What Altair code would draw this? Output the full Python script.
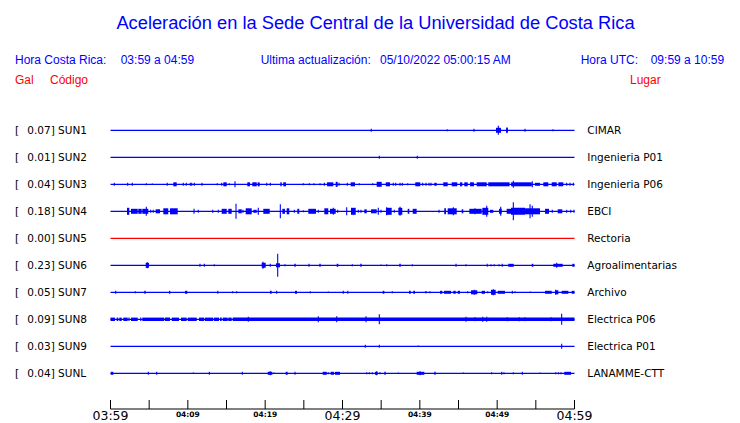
import altair as alt
import pandas as pd

# ---------------- data ----------------
TITLE = "Aceleración en la Sede Central de la Universidad de Costa Rica"
CR_LABEL, CR_RANGE = "Hora Costa Rica:", "03:59 a 04:59"
UPD_LABEL, UPD_VALUE = "Ultima actualización:", "05/10/2022 05:00:15 AM"
UTC_LABEL, UTC_RANGE = "Hora UTC:", "09:59 a 10:59"
HEAD_GAL, HEAD_CODE, HEAD_PLACE = "Gal", "Código", "Lugar"

CODES = ["SUN1", "SUN2", "SUN3", "SUN4", "SUN5", "SUN6", "SUN7", "SUN8", "SUN9", "SUNL"]
PEAKS = ["0.07", "0.01", "0.04", "0.18", "0.00", "0.23", "0.05", "0.09", "0.03", "0.04"]
PLACES = ["CIMAR", "Ingenieria P01", "Ingenieria P06", "EBCI", "Rectoria",
          "Agroalimentarias", "Archivo", "Electrica P06", "Electrica P01", "LANAMME-CTT"]

# time axis (minutes after 03:59)
TICK_MINUTES = [0, 5, 10, 15, 20, 25, 30, 35, 40, 45, 50, 55, 60]
LABEL_MINUTES = [0, 10, 20, 30, 40, 50, 60]
LABEL_TEXTS = ["03:59", "04:09", "04:19", "04:29", "04:39", "04:49", "04:59"]
MAJOR_LABELS = ["03:59", "04:29", "04:59"]
WINDOW = [0, 60]

# bursts of each trace: (minute, amplitude) spikes or (start, end, amplitude) bursts
SUN1_EVENTS = [(33.72, 1.5), (43.55, 1), (47.00, 1.5), (49.85, 50.50, 2.5), (50.15, 4.5),
               (51.14, 51.40, 2), (51.27, 3), (53.60, 1.5), (57.22, 1)]
SUN2_EVENTS = [(34.76, 1.5), (39.67, 1.5)]
SUN3_EVENTS = [(0.49, 1.5), (2.22, 1.5), (2.82, 1.5), (4.63, 1), (5.41, 0.7), (7.34, 1.5),
               (8.12, 8.56, 2), (9.41, 1.5), (9.80, 1.5), (10.32, 1.5), (10.50, 1.5), (10.84, 1.5),
               (11.83, 1.5), (13.81, 1), (14.38, 1.5), (14.59, 15.03, 2), (15.36, 1), (16.10, 3),
               (17.69, 18.04, 2), (18.34, 18.91, 2), (19.03, 19.29, 2), (20.20, 1.5), (20.66, 1.5),
               (21.96, 22.14, 2), (22.34, 22.69, 2), (24.93, 1), (25.71, 1), (26.31, 1), (27.09, 1),
               (27.65, 1.5), (28.00, 28.81, 2), (29.12, 29.38, 2.5), (29.55, 1.5), (30.62, 1.5),
               (31.06, 31.62, 2), (32.17, 1), (33.91, 1), (34.42, 35.07, 2.5), (35.59, 36.14, 2),
               (36.57, 1.5), (36.88, 1.5), (37.44, 1.5), (37.73, 1.5), (38.43, 1), (39.41, 40.06, 2),
               (40.37, 1.5), (40.80, 1.5), (41.19, 1.5), (41.44, 1.5), (41.87, 42.18, 1.5),
               (43.03, 43.60, 2), (44.12, 44.84, 2), (45.19, 45.49, 2), (45.75, 46.19, 2),
               (46.49, 47.00, 2), (47.35, 48.65, 2), (48.85, 51.60, 2), (51.80, 54.47, 2),
               (52.09, 3.5), (54.54, 3), (54.89, 55.54, 1.5), (55.97, 56.61, 2), (57.05, 57.70, 2),
               (57.91, 58.55, 2), (58.99, 1.5), (59.42, 1.5), (59.85, 1.5)]
SUN4_EVENTS = [(2.13, 2.43, 3.5), (2.65, 3.52, 2.5), (3.59, 4.03, 2.5), (4.11, 4.89, 2.5), (4.63, 4.5),
               (5.20, 1.5), (5.53, 1.5), (5.84, 6.40, 2), (6.83, 7.47, 3), (7.69, 8.69, 3),
               (10.80, 2.5), (11.35, 1.5), (13.22, 1.5), (13.94, 1.5), (14.38, 15.03, 2.5),
               (15.23, 15.67, 2.5), (16.23, 7.5), (16.53, 16.97, 2), (17.13, 1.5), (17.48, 18.26, 3),
               (18.47, 18.91, 1.5), (19.11, 3.5), (19.76, 20.59, 2.5), (21.96, 7), (22.22, 22.56, 2.5),
               (22.78, 23.12, 3), (23.77, 1.5), (24.16, 24.41, 2.5), (24.93, 1), (25.58, 26.57, 2.5),
               (26.87, 1.5), (27.65, 28.16, 3), (28.38, 29.12, 2.5), (28.81, 3.5), (29.38, 1.5),
               (30.54, 4), (31.10, 31.71, 3.5), (32.04, 1.5), (32.39, 1.5), (32.82, 33.13, 2),
               (33.69, 34.42, 2), (34.63, 3.5), (34.98, 1.5), (35.62, 36.36, 3.5), (35.72, 4),
               (36.70, 1.5), (37.22, 37.73, 3.5), (37.44, 4.5), (38.43, 38.64, 2.5), (39.08, 39.59, 2.5),
               (42.48, 1.5), (43.16, 43.38, 3), (43.60, 44.77, 3), (44.33, 4), (45.41, 45.62, 2),
               (46.40, 48.00, 2.5), (47.13, 3), (48.08, 48.85, 3.5), (48.65, 5.5), (49.07, 49.50, 1.5),
               (50.24, 50.59, 2.5), (50.46, 4.5), (51.23, 51.79, 2.5), (51.79, 53.60, 3.5), (52.09, 9),
               (52.53, 3), (53.60, 55.54, 3), (54.25, 7), (54.54, 5.5), (56.19, 56.70, 2.5),
               (57.13, 1.5), (57.83, 58.42, 2), (58.99, 1.5), (59.51, 1.5), (59.94, 1.5)]
SUN5_EVENTS = []
SUN6_EVENTS = [(4.55, 4.98, 2.5), (4.76, 3), (11.57, 1.5), (12.13, 1.5), (13.42, 1), (19.55, 20.07, 2.5),
               (19.72, 3.5), (20.66, 1.5), (21.40, 21.92, 2), (21.62, 11.5), (22.56, 1),
               (23.77, 23.95, 1.5), (25.67, 1.5), (27.00, 27.18, 1.5), (29.25, 29.46, 1.5), (31.27, 1),
               (32.30, 32.48, 1.5), (34.98, 0.7), (35.72, 1), (37.34, 37.53, 1.5), (39.03, 1),
               (44.68, 1.5), (45.97, 1), (48.65, 48.78, 1.5), (49.20, 1), (49.63, 1), (50.24, 1),
               (50.66, 1.5), (51.44, 52.14, 1.5), (54.47, 54.67, 1.5), (57.26, 58.47, 1.5), (57.70, 2.5),
               (59.72, 60.0, 1.5)]
SUN7_EVENTS = [(0.67, 1.5), (3.21, 1), (4.37, 4.55, 1.5), (7.56, 7.73, 1.5), (9.63, 9.93, 1.5),
               (13.81, 13.94, 1.5), (15.80, 1), (16.32, 1), (20.63, 20.84, 1.5), (21.49, 1.5),
               (23.86, 24.12, 1.5), (25.84, 1), (28.16, 0.7), (30.10, 1.5), (30.62, 30.75, 1.5),
               (35.20, 35.41, 1.5), (36.44, 1), (38.60, 38.82, 1.5), (39.16, 39.38, 1.5),
               (40.67, 40.89, 1), (41.31, 1), (42.61, 42.90, 1.5), (43.13, 44.03, 1.5),
               (44.33, 44.64, 1.5), (44.90, 45.19, 1.5), (46.19, 1), (46.62, 47.43, 2), (47.04, 2.5),
               (48.00, 48.43, 1.5), (48.78, 1), (49.20, 49.81, 2.5), (49.50, 3), (50.07, 51.01, 1.5),
               (51.96, 1.5), (52.31, 1), (54.28, 0.7), (56.19, 57.05, 1.5), (57.48, 57.91, 2),
               (57.57, 2.5), (58.34, 59.20, 1.5), (59.64, 60.0, 1.5)]
SUN8_EVENTS = [(0.0, 0.58, 1.7), (0.80, 1.01, 1.7), (1.14, 1.45, 1.7), (1.66, 2.22, 1.7), (2.39, 1.7),
               (2.65, 3.52, 1.7), (3.91, 1.7), (4.11, 6.96, 1.7), (7.05, 7.69, 1.7), (7.91, 8.86, 1.7),
               (9.12, 9.85, 1.7), (9.98, 11.15, 1.7), (11.44, 12.13, 1.7), (12.22, 13.29, 1.7),
               (13.38, 14.03, 1.7), (14.16, 14.38, 1.7), (14.51, 15.16, 1.7), (15.23, 15.67, 1.7),
               (15.80, 60.0, 1.7), (17.82, 2.5), (26.87, 3), (29.25, 3), (33.04, 3), (34.76, 5),
               (45.97, 2.5), (47.13, 2), (48.13, 2.5), (48.65, 2.5), (51.31, 2), (52.86, 2),
               (53.60, 2), (56.96, 2), (58.34, 5.5)]
SUN9_EVENTS = [(32.95, 1.5), (34.76, 1.5), (39.80, 0.7), (58.34, 2.5)]
SUNL_EVENTS = [(0.03, 0.36, 1.5), (4.89, 1.5), (5.97, 1.5), (10.71, 0.7), (12.78, 1.5), (17.04, 1.5),
               (20.33, 20.92, 1.5), (20.66, 2), (21.14, 0.7), (22.66, 22.91, 1.5), (23.86, 1.5),
               (27.44, 27.96, 1.5), (28.16, 1), (28.47, 28.90, 1.5), (29.03, 29.68, 1.5), (33.13, 1),
               (33.47, 1), (33.85, 1), (34.20, 34.55, 1.5), (34.42, 2), (34.85, 1), (35.41, 35.59, 1.5),
               (37.22, 0.7), (39.59, 40.58, 1.5), (40.02, 2), (41.87, 42.05, 1.5), (45.62, 0.7),
               (49.29, 1), (50.59, 1.5), (50.88, 1), (52.09, 1), (53.25, 1.5), (55.54, 0.7),
               (57.57, 1), (57.91, 1), (58.25, 1), (58.68, 59.55, 1.5)]

ALL_EVENTS = [SUN1_EVENTS, SUN2_EVENTS, SUN3_EVENTS, SUN4_EVENTS, SUN5_EVENTS,
              SUN6_EVENTS, SUN7_EVENTS, SUN8_EVENTS, SUN9_EVENTS, SUNL_EVENTS]

# ---------------- styling / layout ----------------
ROW_GAP = 27
BLUE, RED = "#0000ff", "#ff0000"
HEAD_FONT = "Liberation Sans"
MONO_FONT = "DejaVu Sans"

xs = alt.Scale(domain=WINDOW, range=[102.5, 566.5])
ys = alt.Scale(domain=[0, ROW_GAP * 9], range=[122.3, 365.3])


def trace_color(peak):
    return RED if float(peak) == 0 else BLUE


rows = pd.DataFrame({
    "code": CODES, "peak": [f"{p}] " for p in PEAKS], "place": PLACES,
    "y": [i * ROW_GAP for i in range(len(CODES))],
    "t0": WINDOW[0], "t1": WINDOW[1],
    "color": [trace_color(p) for p in PEAKS],
})
rows["left"] = rows["peak"] + rows["code"]

spk, brs = [], []
for i, events in enumerate(ALL_EVENTS):
    for e in events:
        if len(e) == 2:
            spk.append({"t": e[0], "y0": i * ROW_GAP - e[1], "y1": i * ROW_GAP + e[1],
                        "color": trace_color(PEAKS[i])})
        else:
            t0, t1, h = e
            brs.append({"t0": t0, "t1": t1, "y0": i * ROW_GAP - h, "y1": i * ROW_GAP + h,
                        "color": trace_color(PEAKS[i])})
spikes_df = pd.DataFrame(spk)
bursts_df = pd.DataFrame(brs)

baselines = alt.Chart(rows).mark_rule(strokeWidth=1.2).encode(
    x=alt.X("t0:Q", scale=xs, axis=None), x2="t1:Q",
    y=alt.Y("y:Q", scale=ys, axis=None),
    color=alt.Color("color:N", scale=None),
)

bursts = alt.Chart(bursts_df).mark_rect().encode(
    x=alt.X("t0:Q", scale=xs, axis=None), x2="t1:Q",
    y=alt.Y("y0:Q", scale=ys, axis=None), y2="y1:Q",
    color=alt.Color("color:N", scale=None),
)

spikes = alt.Chart(spikes_df).mark_rule(strokeWidth=1.1).encode(
    x=alt.X("t:Q", scale=xs, axis=None),
    y=alt.Y("y0:Q", scale=ys, axis=None), y2="y1:Q",
    color=alt.Color("color:N", scale=None),
)

bracket = alt.Chart(rows).mark_text(align="left", baseline="alphabetic", dy=3.8, font=MONO_FONT,
                                    fontSize=10.7, color="black").encode(
    x=alt.value(7), y=alt.Y("y:Q", scale=ys, axis=None), text=alt.value("["))
left_lbl = alt.Chart(rows).mark_text(align="left", baseline="alphabetic", dy=3.8, font=MONO_FONT,
                                     fontSize=10.5, color="black").encode(
    x=alt.value(19.3), y=alt.Y("y:Q", scale=ys, axis=None), text="left:N")
right_lbl = alt.Chart(rows).mark_text(align="left", baseline="alphabetic", dy=3.8, font=MONO_FONT,
                                      fontSize=10.5, color="black").encode(
    x=alt.value(579.3), y=alt.Y("y:Q", scale=ys, axis=None), text="place:N")


def label(text, x, y, color, size, align="left"):
    return alt.Chart(pd.DataFrame({"t": [text]})).mark_text(
        align=align, baseline="alphabetic", font=HEAD_FONT, fontSize=size, color=color
    ).encode(x=alt.value(x), y=alt.value(y), text="t:N")


headers = [
    label(TITLE, 367.5, 21.3, BLUE, 18.3, "center"),
    label(CR_LABEL, 7, 56.3, BLUE, 12),
    label(CR_RANGE, 112.7, 56.3, BLUE, 12),
    label(UPD_LABEL, 252.7, 56.3, BLUE, 12),
    label(UPD_VALUE, 372, 56.3, BLUE, 12),
    label(UTC_LABEL, 572.7, 56.3, BLUE, 12),
    label(UTC_RANGE, 642.7, 56.3, BLUE, 12),
    label(HEAD_GAL, 7, 76.3, RED, 12),
    label(HEAD_CODE, 42, 76.3, RED, 12),
    label(HEAD_PLACE, 622, 76.3, RED, 12),
]

axis_df = pd.DataFrame({"t0": [WINDOW[0]], "t1": [WINDOW[1]]})
axis_line = alt.Chart(axis_df).mark_rule(color="black", strokeWidth=1).encode(
    x=alt.X("t0:Q", scale=xs, axis=None), x2="t1:Q", y=alt.value(401))
ticks = alt.Chart(pd.DataFrame({"t": TICK_MINUTES})).mark_rule(color="black", strokeWidth=1).encode(
    x=alt.X("t:Q", scale=xs, axis=None), y=alt.value(392), y2=alt.value(401))

lab_df = pd.DataFrame({"t": LABEL_MINUTES, "lab": LABEL_TEXTS})
lab_df["major"] = lab_df["lab"].isin(MAJOR_LABELS)
major_lbl = alt.Chart(lab_df[lab_df["major"]]).mark_text(
    align="center", baseline="alphabetic", font=MONO_FONT, fontSize=12.5, color="black").encode(
    x=alt.X("t:Q", scale=xs, axis=None), y=alt.value(412), text="lab:N")
minor_lbl = alt.Chart(lab_df[~lab_df["major"]]).mark_text(
    align="center", baseline="alphabetic", font=MONO_FONT, fontSize=7.5, fontWeight="bold",
    color="black").encode(
    x=alt.X("t:Q", scale=xs, axis=None), y=alt.value(409.3), text="lab:N")

chart = alt.layer(
    baselines, bursts, spikes, bracket, left_lbl, right_lbl, *headers,
    axis_line, ticks, major_lbl, minor_lbl,
).properties(
    width=724, height=415, autosize="none", padding=0, background="white"
).configure_view(stroke=None)

chart.save("out.html", embed_options={"renderer": "svg", "actions": False})
